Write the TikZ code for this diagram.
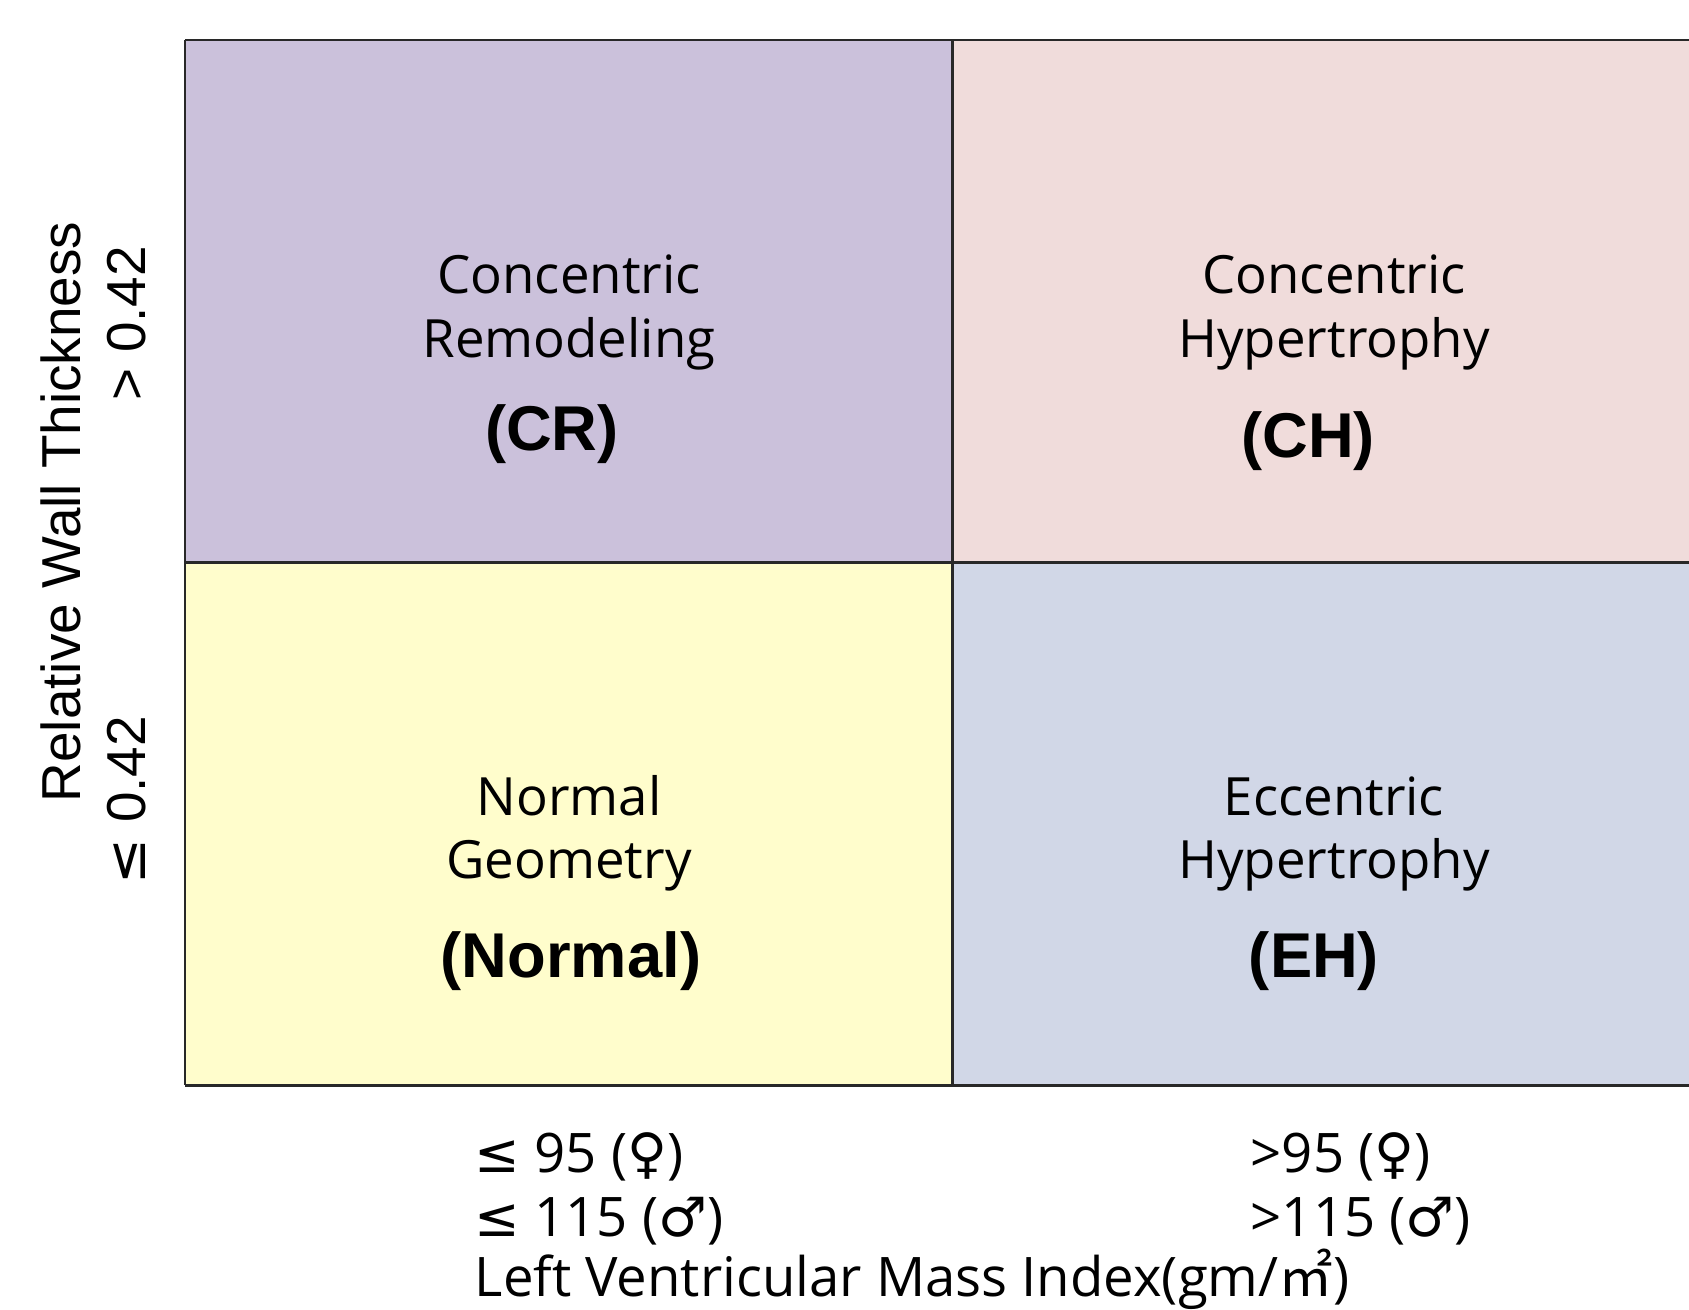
\documentclass[tikz,border=0pt]{standalone}
\usepackage{fontspec}
\usepackage{tikz}
\usetikzlibrary{positioning}
\setmainfont{Open Sans}
\newfontfamily\arialfont{Liberation Sans}
\newfontfamily\symfont{DejaVu Sans}
\newfontfamily\cjkfont{Noto Sans CJK KR}
\definecolor{crfill}{RGB}{203,193,219}
\definecolor{chfill}{RGB}{240,220,219}
\definecolor{norfill}{RGB}{255,253,204}
\definecolor{ehfill}{RGB}{209,215,231}
\definecolor{gridline}{RGB}{40,40,40}
\tikzset{
    celltext/.style={anchor=base, inner sep=0pt, font=\fontsize{15}{18}\selectfont},
    cellabbr/.style={anchor=base, inner sep=0pt, font=\arialfont\bfseries\fontsize{18}{21}\selectfont},
    axistext/.style={rotate=90, inner sep=0pt, font=\arialfont\fontsize{15.6}{18}\selectfont},
    scaletext/.style={anchor=base west, inner sep=0pt, font=\fontsize{15.5}{18}\selectfont},
    gridrule/.style={draw=gridline, line width=0.85pt}
}
\begin{document}
\begin{tikzpicture}[x=0.01cm,y=-0.01cm]
    \useasboundingbox (0,0) rectangle (1689,1309);
    \coordinate (tl) at (185,40);
    \coordinate (tm) at (952,40);
    \coordinate (tr) at (1700,40);
    \coordinate (ml) at (185,562);
    \coordinate (mm) at (952,562);
    \coordinate (mr) at (1700,562);
    \coordinate (bl) at (185,1085);
    \coordinate (bm) at (952,1085);
    \coordinate (br) at (1700,1085);
    \fill[crfill] (tl) rectangle (mm);
    \fill[chfill] (tm) rectangle (mr);
    \fill[norfill] (ml) rectangle (bm);
    \fill[ehfill] (mm) rectangle (br);
    \draw[gridrule] (tl) -- (tr) (ml) -- (mr) (bl) -- (br);
    \draw[gridrule] (tl) -- (bl) (tm) -- (bm);
    \node[celltext] (cr1) at (569,293) {Concentric};
    \node[celltext] (cr2) at (569,357) {Remodeling};
    \node[cellabbr] (crab) at (552,450) {(CR)};
    \node[celltext] (ch1) at (1334,293) {Concentric};
    \node[celltext] (ch2) at (1334,357) {Hypertrophy};
    \node[cellabbr] (chab) at (1308,457) {(CH)};
    \node[celltext] (nor1) at (569,815) {Normal};
    \node[celltext] (nor2) at (569,878) {Geometry};
    \node[cellabbr] (norab) at (571,977) {(Normal)};
    \node[celltext] (eh1) at (1334,815) {Eccentric};
    \node[celltext] (eh2) at (1334,878) {Hypertrophy};
    \node[cellabbr] (ehab) at (1314,977) {(EH)};
    \node[axistext] (rwt) at (61,512) {Relative Wall Thickness};
    \node[axistext] (rwthi) at (127,323) {> 0.42};
    \node[axistext] (rwtlo) at (127,800) {{\symfont ≤} 0.42};
    \node[scaletext] (lofem) at (474,1172) {{\symfont ≤} 95 ({\symfont ♀})};
    \node[scaletext] (lomal) at (474,1236) {{\symfont ≤} 115 ({\symfont ♂})};
    \node[scaletext] (hifem) at (1250,1172) {>95 ({\symfont ♀})};
    \node[scaletext] (himal) at (1250,1236) {>115 ({\symfont ♂})};
    \node[scaletext] (lvmi) at (474,1296) {Left Ventricular Mass Index(gm/{\cjkfont ㎡})};
\end{tikzpicture}
\end{document}
